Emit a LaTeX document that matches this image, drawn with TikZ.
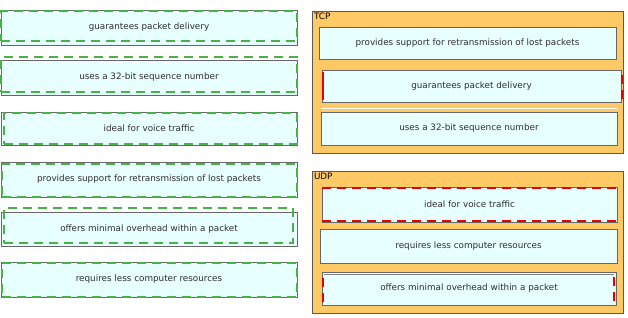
\documentclass[tikz,border=0pt]{standalone}
\usepackage{fontspec}
\setmainfont{DejaVu Sans}
\begin{document}
\begin{tikzpicture}[x=1pt,y=-1pt,
  every node/.style={inner sep=0pt,outer sep=0pt},
  item/.style={draw=gray!80!black,line width=0.8pt,fill=cyanfill,anchor=north west,text=textgray,font=\fontsize{8.8}{10}\selectfont},
  grp/.style={draw=gray!70!black,line width=0.8pt,fill=orangefill,anchor=north west},
  gdash/.style={draw=greendash,line width=2pt,dash pattern=on 9pt off 6pt,anchor=north west},
  rdash/.style={draw=reddash,line width=2pt,dash pattern=on 9pt off 6pt},
  lbl/.style={anchor=north west,text=black,font=\fontsize{8.8}{10}\selectfont}]
\definecolor{cyanfill}{RGB}{232,255,255}
\definecolor{orangefill}{RGB}{255,201,102}
\definecolor{textgray}{RGB}{45,45,45}
\definecolor{greendash}{RGB}{72,178,72}
\definecolor{reddash}{RGB}{230,0,0}
\useasboundingbox[fill=white] (0,0) rectangle (628,317);
% left column
\node[item,minimum width=296pt,minimum height=35pt] (l1) at (1,10) {guarantees packet delivery};
\node[item,minimum width=296pt,minimum height=35pt] (l2) at (1,60) {uses a 32-bit sequence number};
\node[item,minimum width=296pt,minimum height=33pt] (l3) at (1,112) {ideal for voice traffic};
\node[item,minimum width=296pt,minimum height=35pt] (l4) at (1,162) {provides support for retransmission of lost packets};
\node[item,minimum width=296pt,minimum height=34pt] (l5) at (1,212) {offers minimal overhead within a packet};
\node[item,minimum width=296pt,minimum height=35pt] (l6) at (1,262) {requires less computer resources};
% green dashed overlays
\node[gdash,minimum width=296pt,minimum height=30pt] (g1) at (1,11) {};
\node[gdash,minimum width=296pt,minimum height=35pt] (g2) at (1,57) {};
\node[gdash,minimum width=293pt,minimum height=31pt] (g3) at (4,113) {};
\node[gdash,minimum width=295pt,minimum height=33pt] (g4) at (2,164) {};
\node[gdash,minimum width=289pt,minimum height=35pt] (g5) at (4,208) {};
\node[gdash,minimum width=295pt,minimum height=34pt] (g6) at (2,263) {};
% TCP group
\node[grp,minimum width=311pt,minimum height=142pt] (tcp) at (312,11) {};
\node[lbl] (tcpl) at (314,13) {TCP};
\node[item,minimum width=297pt,minimum height=32pt] (t1) at (319,27) {provides support for retransmission of lost packets};
\node[item,minimum width=299pt,minimum height=32pt] (t2) at (322,70) {guarantees packet delivery};
\node[item,minimum width=296pt,minimum height=33pt] (t3) at (321,112) {uses a 32-bit sequence number};
\draw[white,line width=1pt] (t3.north west) ++(0,-4) -- ++(296,0);
\draw[reddash,line width=2pt] (t2.north west) ++(1,2) -- ++(0,28);
\draw[rdash] (t2.north east) ++(1,5) -- ++(0,25);
% UDP group
\node[grp,minimum width=311pt,minimum height=142pt] (udp) at (312,171) {};
\node[lbl] (udpl) at (314,173) {UDP};
\node[item,minimum width=295pt,minimum height=35pt] (u1) at (322,187) {ideal for voice traffic};
\node[item,minimum width=297pt,minimum height=34pt] (u2) at (320,229) {requires less computer resources};
\node[item,minimum width=294pt,minimum height=33pt] (u3) at (322,272) {offers minimal overhead within a packet};
\draw[gray,line width=1.2pt] (u3.north west) ++(2,2.5) -- ++(290,0);
\draw[rdash] (u1.north west) ++(0,1) -- ++(295,0);
\draw[rdash] (u1.south west) ++(0,-1) -- ++(295,0);
\draw[rdash] (u3.north west) ++(1,6) -- ++(0,27);
\draw[rdash] (u3.north east) ++(-2,5) -- ++(0,28);
\end{tikzpicture}
\end{document}
